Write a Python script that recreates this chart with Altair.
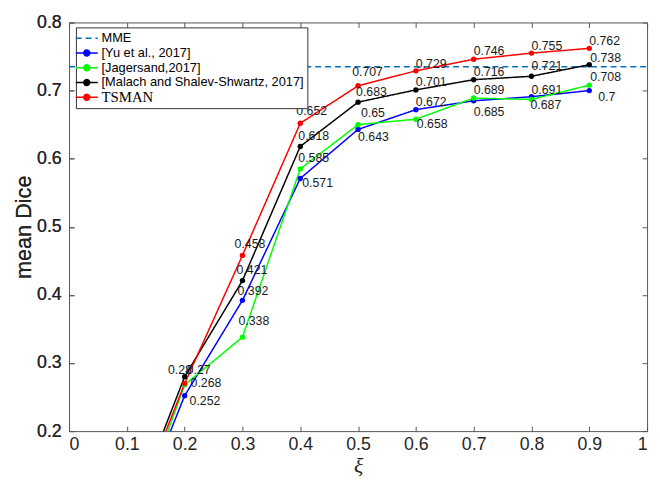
import altair as alt
import pandas as pd

# ---- data ----
xi = [0.1, 0.2, 0.3, 0.4, 0.5, 0.6, 0.7, 0.8, 0.9]
yu = [0.040, 0.252, 0.392, 0.571, 0.643, 0.672, 0.685, 0.691, 0.700]
jagersand = [0.034, 0.268, 0.338, 0.585, 0.650, 0.658, 0.689, 0.687, 0.708]
malach = [0.061, 0.280, 0.421, 0.618, 0.683, 0.701, 0.716, 0.721, 0.738]
tsman = [0.054, 0.270, 0.458, 0.652, 0.707, 0.729, 0.746, 0.755, 0.762]
mme = 0.735

S_MME = "MME"
S_YU = "[Yu et al., 2017]"
S_JAG = "[Jagersand,2017]"
S_MAL = "[Malach and Shalev-Shwartz, 2017]"
S_TS = "TSMAN"
series_order = [S_MME, S_YU, S_JAG, S_MAL, S_TS]
series_colors = ["#0072BD", "#0000FF", "#00FF00", "#000000", "#FF0000"]

x_ticks = [0, 0.1, 0.2, 0.3, 0.4, 0.5, 0.6, 0.7, 0.8, 0.9, 1]
y_ticks = [0.2, 0.3, 0.4, 0.5, 0.6, 0.7, 0.8]

W, H = 587, 415

# label nudges in pixels (dx, dy), for points xi >= 0.2
label_nudge = {
    S_YU: [(5, 5), (-5, -9), (2, 5), (0, 8), (0, -8), (0, 11), (0, -7), (9, 7)],
    S_JAG: [(6, -2), (-4, -16), (-2, -11), (3, -12), (1, 5), (0, -8), (-1, 6), (1, -8)],
    S_MAL: [(-17, -7), (-6, -11), (-2, -11), (-2, -10), (0, -8), (0, -8), (0, -10), (1, -7)],
    S_TS: [(2, -14), (-8, -12), (-4, -12), (-6, -14), (0, -7), (0, -8), (0, -7), (0, -7)],
}

rows = []
for name, vals in [(S_YU, yu), (S_JAG, jagersand), (S_MAL, malach), (S_TS, tsman)]:
    for i, (x, y) in enumerate(zip(xi, vals)):
        rows.append({"series": name, "xi": x, "dice": y, "order": i})
df = pd.DataFrame(rows)

lab_rows = []
for name, vals in [(S_YU, yu), (S_JAG, jagersand), (S_MAL, malach), (S_TS, tsman)]:
    for k, (x, y) in enumerate(zip(xi[1:], vals[1:])):
        dx, dy = label_nudge[name][k]
        lab_rows.append({"series": name, "xi": x, "dice": y, "dx": dx, "dy": dy,
                         "label": f"{y:g}"})
df_lab = pd.DataFrame(lab_rows)

df_mme = pd.DataFrame({"series": [S_MME], "dice": [mme]})

xscale = alt.Scale(domain=[0, 1], nice=False, zero=False)
yscale = alt.Scale(domain=[0.2, 0.8], nice=False, zero=False)
cscale = alt.Scale(domain=series_order, range=series_colors)
dscale = alt.Scale(domain=series_order, range=[[6, 4], [1, 0], [1, 0], [1, 0], [1, 0]])

axis_common = dict(grid=False, domain=False, tickSize=5, offset=-5,
                   tickColor="#555", tickWidth=1)

x_axis_bottom = alt.Axis(values=x_ticks, format="~g", title="ξ", labelFontSize=18,
                         labelFont="Liberation Sans", labelColor="#262626", labelPadding=5,
                         titleFont="Liberation Serif", titleFontStyle="italic",
                         titleFontWeight="normal", titleFontSize=22, titleColor="#262626",
                         titlePadding=2, orient="bottom", **axis_common)
y_axis_left = alt.Axis(values=y_ticks, format=".1f", title="mean Dice", labelFontSize=18,
                       labelFont="Liberation Sans", labelColor="#262626", labelPadding=8,
                       titleFont="Liberation Sans", titleFontWeight="normal",
                       titleFontSize=22, titleColor="#262626", titlePadding=1,
                       orient="left", **axis_common)
x_axis_top = alt.Axis(values=x_ticks, labels=False, title=None, orient="top", **axis_common)
y_axis_right = alt.Axis(values=y_ticks, labels=False, title=None, orient="right", **axis_common)

legend = alt.Legend(
    title=None, orient="none", legendX=7, legendY=5,
    fillColor="white", strokeColor="#333", padding=3,
    labelFontSize={"expr": "datum.label == 'TSMAN' ? 15 : 13"},
    labelFont={"expr": "datum.label == 'TSMAN' ? 'Liberation Serif' : 'Liberation Sans'"},
    labelColor="#000", labelOffset=7, labelLimit=400,
    symbolType={"expr": "datum.label == 'MME' ? 'M-1.6,0L1.6,0' : "
                        "'M-1.6,0L1.6,0M-0.43,0A0.43,0.43,0,1,0,0.43,0A0.43,0.43,0,1,0,-0.43,0Z'"},
    symbolSize=196, symbolStrokeWidth=1.5,
    symbolFillColor={"expr": "datum.label == 'MME' ? 'transparent' : scale('color', datum.value)"},
    rowPadding=0,
)

rule = alt.Chart(df_mme).mark_rule(strokeWidth=1.5).encode(
    y=alt.Y("dice:Q", scale=yscale, axis=y_axis_left),
    x=alt.value(0), x2=alt.value(W),
    color=alt.Color("series:N", scale=cscale, legend=legend),
    strokeDash=alt.StrokeDash("series:N", scale=dscale, legend=legend),
)

lines = alt.Chart(df).mark_line(strokeWidth=1.5, clip=True).encode(
    x=alt.X("xi:Q", scale=xscale, axis=x_axis_top),
    y=alt.Y("dice:Q", scale=yscale, axis=y_axis_right),
    color=alt.Color("series:N", scale=cscale, legend=legend),
    strokeDash=alt.StrokeDash("series:N", scale=dscale, legend=legend),
    order="order:Q",
)

points = alt.Chart(df).mark_point(filled=True, size=30, opacity=1, clip=True).encode(
    x=alt.X("xi:Q", scale=xscale, axis=x_axis_bottom),
    y=alt.Y("dice:Q", scale=yscale, axis=y_axis_left),
    color=alt.Color("series:N", scale=cscale, legend=None),
)

labels = alt.Chart(df_lab).transform_calculate(
    lx=f"datum.xi + datum.dx / {W}",
    ly=f"datum.dice - datum.dy * 0.6 / {H}",
).mark_text(align="left", baseline="middle", fontSize=12.5,
            font="Liberation Sans", color="#1a1a1a").encode(
    x=alt.X("lx:Q", scale=xscale, axis=None),
    y=alt.Y("ly:Q", scale=yscale, axis=None),
    text="label:N",
)

chart = alt.layer(rule, lines, points, labels).resolve_axis(
    x="independent", y="independent"
).properties(
    width=W, height=H,
    autosize=alt.AutoSizeParams(type="none"),
    padding={"left": 62, "top": 11, "right": 5, "bottom": 50},
    background="white",
).configure_view(stroke="#555", strokeWidth=1)

chart.save("out.html", embed_options={"renderer": "svg", "actions": False})
